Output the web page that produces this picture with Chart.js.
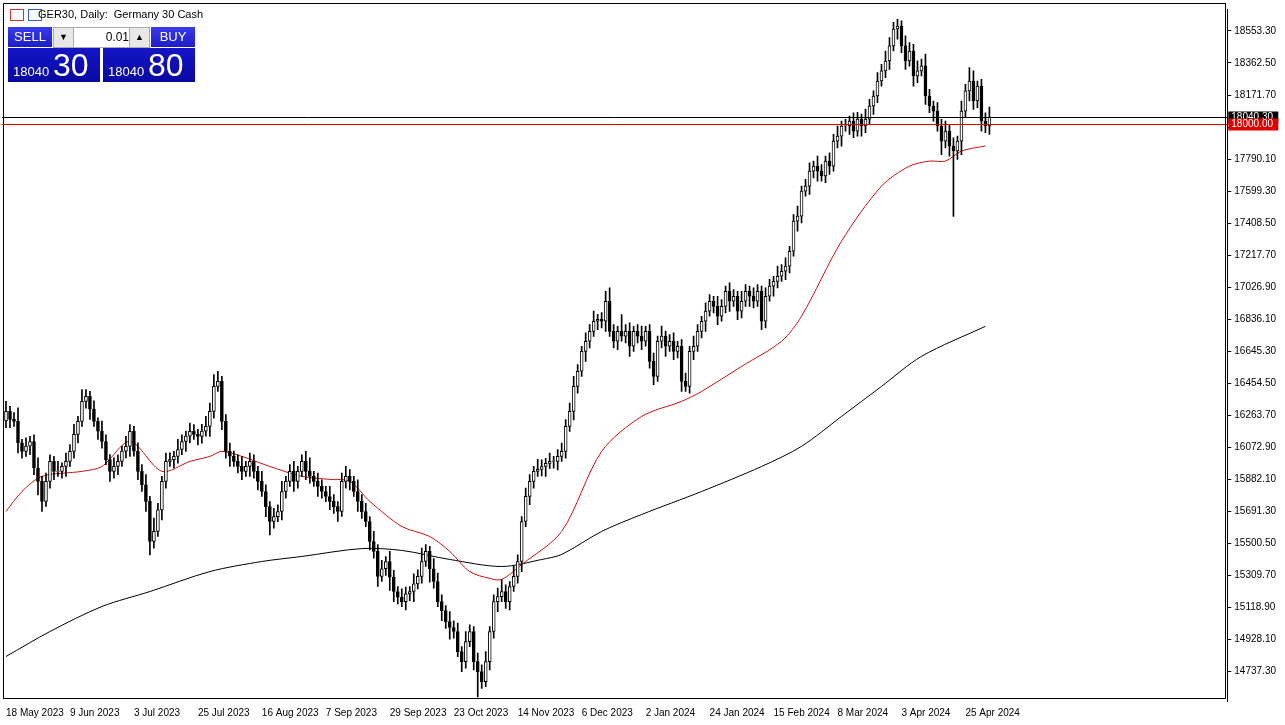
<!DOCTYPE html>
<html>
<head>
<meta charset="utf-8">
<script src="https://cdn.jsdelivr.net/npm/chart.js@4/dist/chart.umd.min.js"></script>
<style>
  body { margin: 0; background: #fff; font-family: "Liberation Sans", Arial, sans-serif; }
  #wrap { position: relative; width: 1285px; height: 725px; }
  #frame { position: absolute; left: 3px; top: 3px; width: 1221px; height: 694px; border: 1px solid #000; pointer-events: none; }
  .abs { position: absolute; }
  .title { left: 38px; top: 8px; font-size: 11px; color: #000; }
  .ico { top: 9px; width: 12px; height: 10px; border: 1px solid #c33; }
  .hdr { top: 27px; height: 20px; background: linear-gradient(#3a3aee, #1d1dc8); color: #fff; font-size: 13px; text-align: center; line-height: 20px; }
  .big { top: 48px; height: 34px; background: linear-gradient(#1515c8, #0808a0); color: #fff; }
  .big .s { position: absolute; left: 5px; bottom: 3px; font-size: 13px; }
  .big .l { position: absolute; left: 45px; bottom: -2px; font-size: 32px; }
  .spin { top: 27px; height: 19px; background: #e8e8e8; border: 1px solid #aaa; font-size: 9px; text-align: center; line-height: 19px; }
</style>
</head>
<body>
<div id="wrap">
  <canvas id="chart" width="1285" height="725"></canvas>
  <div id="frame"></div>
  <div class="abs ico" style="left:10px"></div>
  <div class="abs ico" style="left:28px;border-color:#36c"></div>
  <div class="abs title">GER30, Daily:&nbsp; Germany 30 Cash</div>
  <div class="abs hdr" style="left:8px;width:44px">SELL</div>
  <div class="abs spin" style="left:53px;width:19px">&#9660;</div>
  <div class="abs" style="left:73px;top:27px;width:55px;height:19px;background:#fff;border:1px solid #aaa;font-size:12px;text-align:right;line-height:19px;padding-right:2px">0.01</div>
  <div class="abs spin" style="left:129px;width:19px">&#9650;</div>
  <div class="abs hdr" style="left:151px;width:44px">BUY</div>
  <div class="abs big" style="left:8px;width:92px"><span class="s">18040</span><span class="l">30</span></div>
  <div class="abs big" style="left:103px;width:92px"><span class="s">18040</span><span class="l">80</span></div>
</div>
<script>
// daily closes, 18 May 2023 .. 3 May 2024
const closes = [
16287,16240,16228,16100,16049,16080,16108,15950,15870,15751,15870,15989,15930,15930,15960,15989,16049,16150,16228,16347,
16377,16300,16228,16170,16108,16000,15930,15960,15989,16050,16079,16168,16050,15930,15850,15751,15512,15572,15700,15870,
15989,16000,16019,16060,16108,16140,16168,16150,16138,16170,16198,16287,16436,16466,16228,16049,16020,15989,15960,15930,
15960,15989,15930,15870,15810,15720,15631,15660,15691,15810,15870,15930,15870,15930,15989,15930,15900,15870,15840,15810,
15780,15751,15720,15691,15870,15900,15870,15810,15751,15690,15631,15512,15453,15304,15350,15393,15300,15214,15180,15154,
15200,15214,15260,15304,15393,15453,15350,15274,15154,15100,15035,15000,14976,14856,14797,14916,14976,14797,14737,14677,
14797,14976,15154,15184,15214,15154,15244,15304,15393,15631,15781,15870,15930,15942,15959,15977,15989,15989,16019,16049,
16198,16287,16436,16526,16645,16705,16764,16824,16836,16824,16943,16764,16705,16764,16735,16764,16675,16764,16735,16705,
16764,16585,16496,16705,16735,16675,16705,16645,16675,16466,16436,16645,16675,16764,16824,16884,16943,16913,16854,16913,
17003,16943,16973,16884,16943,17003,16973,16943,17003,16824,16973,17033,17062,17092,17122,17152,17241,17420,17450,17599,
17629,17718,17748,17718,17689,17778,17748,17897,17927,17987,17987,18016,17957,18028,17987,18028,18106,18166,18255,18315,
18374,18464,18565,18583,18464,18374,18434,18285,18315,18345,18166,18106,18076,17987,17897,17957,17867,17838,17897,18076,
18196,18255,18136,18225,18016,17987,18040
];
const firstOpen = 16230;
// wick lengths above / below the candle body
const wickUp = [
60,30,40,80,20,50,30,40,60,30,50,40,30,60,20,50,40,60,30,70,
40,30,50,20,60,40,30,50,40,30,60,40,30,50,40,60,30,80,40,30,
50,40,30,60,40,30,50,40,30,40,60,50,70,60,30,40,50,30,40,60,
30,50,40,30,60,40,30,50,40,60,30,40,60,30,40,60,80,30,50,40,
30,60,40,30,50,60,40,30,70,40,50,30,60,40,50,30,60,40,30,50,
40,30,60,40,80,40,30,60,50,40,30,60,40,50,30,60,40,30,50,40,
60,30,40,50,70,40,30,60,40,30,50,40,30,60,40,30,50,30,40,50,
40,50,60,40,30,50,40,60,30,40,60,80,40,30,100,40,50,30,40,60,
30,40,50,30,60,30,40,50,30,40,50,30,60,40,30,50,40,30,60,40,
30,50,40,30,60,40,30,50,40,30,50,40,30,60,40,50,30,40,60,30,
40,50,30,60,40,30,50,40,60,30,40,30,50,40,30,60,40,30,50,40,
60,50,40,40,30,60,50,40,60,40,70,40,30,50,40,60,40,50,30,60,
40,80,60,30,40,50,60
];
const wickDown = [
40,50,30,60,40,30,50,40,80,60,30,40,50,30,40,60,30,40,50,30,
40,60,30,50,40,30,60,40,50,30,40,60,30,50,40,60,80,40,30,60,
40,30,50,40,30,60,40,30,50,40,30,60,40,30,50,40,60,30,40,50,
30,60,40,50,30,60,80,40,30,50,40,30,60,40,30,50,40,30,60,40,
30,50,40,60,30,40,50,30,60,40,30,50,40,60,30,40,80,60,40,30,
50,40,60,30,40,30,80,40,30,60,40,70,40,30,60,40,30,50,150,40,
30,50,40,60,30,40,50,30,40,60,30,50,40,30,40,60,30,40,50,30,
40,30,50,40,30,60,40,30,50,40,60,30,40,50,30,40,60,30,40,50,
30,40,50,30,40,60,30,50,40,60,30,40,50,30,40,60,30,40,50,30,
40,60,30,50,40,30,60,40,30,50,40,30,60,40,30,50,40,30,60,40,
30,50,40,60,30,40,50,30,40,60,30,50,40,30,60,40,30,50,40,30,
40,50,30,60,40,50,30,60,40,30,50,40,60,30,80,40,60,390,50,80,
40,60,50,40,60,40,50
];
const tickLabels = ['18 May 2023','9 Jun 2023','3 Jul 2023','25 Jul 2023','16 Aug 2023','7 Sep 2023',
  '29 Sep 2023','23 Oct 2023','14 Nov 2023','6 Dec 2023','2 Jan 2024','24 Jan 2024','15 Feb 2024',
  '8 Mar 2024','3 Apr 2024','25 Apr 2024'];
const priceTicks = [18553.30,18362.50,18171.70,17980.90,17790.10,17599.30,17408.50,17217.70,17026.90,
  16836.10,16645.30,16454.50,16263.70,16072.90,15882.10,15691.30,15500.50,15309.70,15118.90,14928.10,14737.30];
// moving averages: [bar index, value]
const ma50 = [[0,15691],[4,15810],[9,15900],[19,15930],[24,15959],[31,16108],[39,15930],[46,15989],[51,16019],
  [54,16049],[59,16019],[66,15959],[74,15900],[81,15882],[86,15870],[91,15751],[99,15602],[106,15542],[111,15453],
  [116,15333],[121,15292],[124,15286],[129,15375],[139,15572],[149,16049],[159,16257],[169,16347],[174,16406],
  [184,16555],[194,16705],[199,16854],[209,17301],[219,17629],[226,17748],[231,17778],[235,17778],[239,17838],[245,17868]];
const ma200 = [[0,14827],[11,14976],[24,15125],[36,15214],[51,15333],[64,15393],[74,15423],[89,15470],[99,15459],
  [111,15405],[124,15363],[134,15405],[139,15435],[149,15572],[159,15673],[174,15810],[189,15959],[199,16079],
  [209,16257],[219,16436],[229,16615],[245,16794]];
const bid = 18040.30, level = 18000.00;

const nBars = 306;
const labels = Array.from({length: nBars}, (_, i) => i);
const opens = closes.map((c, i) => i === 0 ? firstOpen : closes[i - 1]);
const bodies = closes.map((c, i) => [Math.min(opens[i], c), Math.max(opens[i], c) + (opens[i] === c ? 3 : 0)]);
const wicks = closes.map((c, i) => [Math.min(opens[i], c) - wickDown[i], Math.max(opens[i], c) + wickUp[i]]);
const sparse = pts => { const a = new Array(nBars).fill(null); pts.forEach(([i, v]) => a[i] = v); return a; };

const levelPlugin = {
  id: 'levels',
  afterDatasetsDraw(chart) {
    const {ctx, chartArea, scales: {y}} = chart;
    [[bid, '#000', '#000'], [level, '#e00000', '#e00000']].forEach(([v, lc, bc]) => {
      const py = Math.round(y.getPixelForValue(v)) + 0.5;
      ctx.save();
      ctx.strokeStyle = lc; ctx.lineWidth = 1;
      ctx.beginPath(); ctx.moveTo(chartArea.left - 2, py); ctx.lineTo(chartArea.right, py); ctx.stroke();
      ctx.fillStyle = bc;
      ctx.fillRect(chartArea.right + 1, py - 6, 50, 12);
      ctx.fillStyle = '#fff'; ctx.font = '10px "Liberation Sans"'; ctx.textBaseline = 'middle';
      ctx.fillText(v.toFixed(2), chartArea.right + 4, py);
      ctx.restore();
    });
  }
};

new Chart(document.getElementById('chart'), {
  type: 'bar',
  data: {
    labels: labels,
    datasets: [
      { type: 'line', data: sparse(ma200), borderColor: '#000', borderWidth: 1, pointRadius: 0, spanGaps: true, order: 3, tension: 0.3 },
      { type: 'line', data: sparse(ma50), borderColor: '#cc1010', borderWidth: 1, pointRadius: 0, spanGaps: true, order: 2, tension: 0.3 },
      { data: wicks, backgroundColor: '#000', barThickness: 1, grouped: false, order: 1 },
      { data: bodies, backgroundColor: closes.map((c, i) => c >= opens[i] ? '#fff' : '#000'),
        borderColor: '#000', borderWidth: 1, borderSkipped: false, barThickness: 3, grouped: false, order: 0 }
    ]
  },
  options: {
    responsive: false,
    animation: false,
    layout: { padding: { left: 4, top: 0, right: 6, bottom: 4 } },
    plugins: { legend: { display: false }, tooltip: { enabled: false } },
    scales: {
      x: {
        offset: true,
        grid: { display: false, drawTicks: true, tickLength: 4 },
        border: { display: false },
        ticks: {
          autoSkip: false, maxRotation: 0, align: 'start', padding: 2,
          color: '#000', font: { family: 'Liberation Sans', size: 10 },
          callback: (v, i) => (i % 16 === 0 && i / 16 < tickLabels.length) ? tickLabels[i / 16] : ''
        }
      },
      y: {
        position: 'right', min: 14562, max: 18684,
        afterBuildTicks: axis => { axis.ticks = priceTicks.map(v => ({value: v})); },
        grid: { display: true, drawOnChartArea: false, tickLength: 4, color: '#000' },
        border: { display: true, color: '#000' },
        ticks: { color: '#000', font: { family: 'Liberation Sans', size: 10 }, padding: 3,
          callback: v => v.toFixed(2) }
      }
    }
  },
  plugins: [levelPlugin]
});
</script>
</body>
</html>
